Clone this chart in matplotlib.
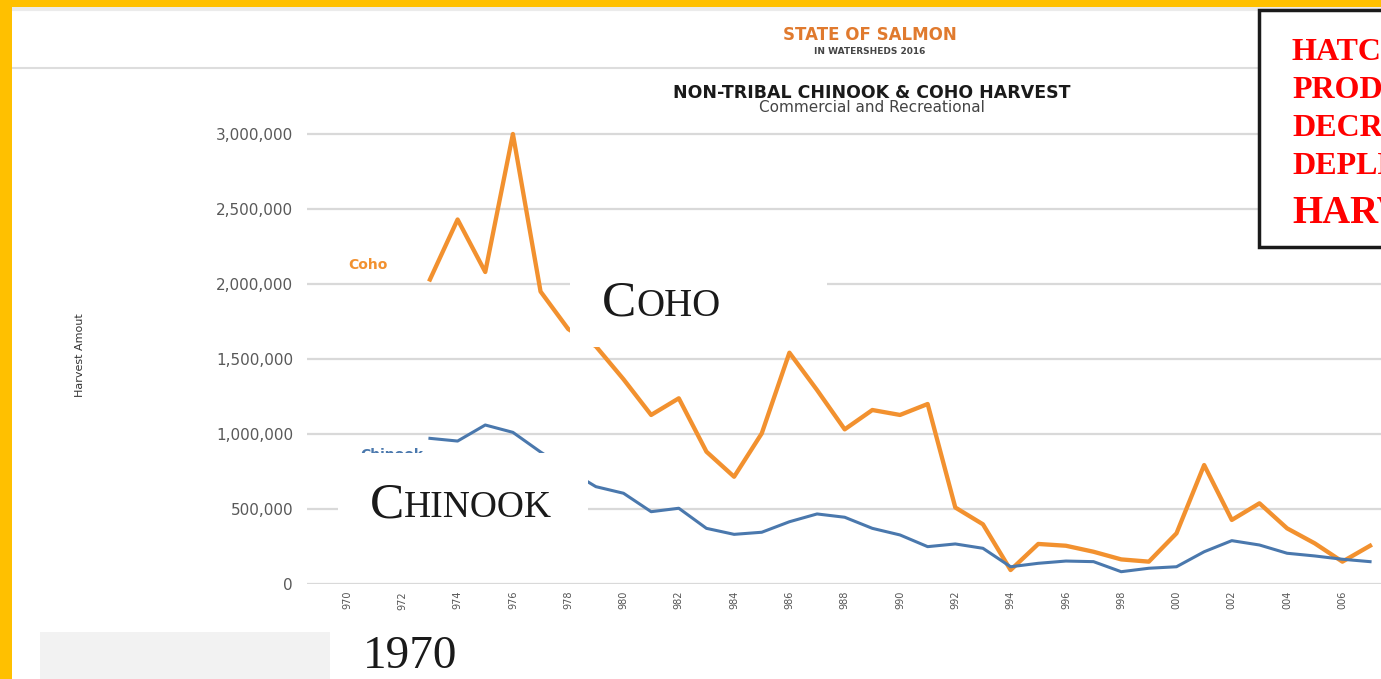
import numpy as np
import matplotlib
matplotlib.use("Agg")
import matplotlib.pyplot as plt
from matplotlib.patches import Rectangle
from matplotlib.lines import Line2D
from matplotlib.ticker import FuncFormatter

# harvest numbers (fish per year)
years = list(range(1973, 2008))
coho = [2030000, 2430000, 2080000, 3000000, 1950000, 1700000, 1585000, 1365000,
        1127000, 1238000, 882000, 715000, 1004000, 1542000, 1293000, 1031000,
        1160000, 1127000, 1200000, 510000, 398000, 93000, 267000, 255000,
        215000, 164000, 149000, 338000, 793000, 427000, 538000, 371000,
        271000, 149000, 255000]
chinook = [971000, 953000, 1060000, 1011000, 880000, 760000, 649000, 605000,
           482000, 505000, 371000, 331000, 345000, 415000, 467000, 445000,
           371000, 327000, 249000, 267000, 238000, 115000, 138000, 153000,
           149000, 82000, 105000, 115000, 215000, 289000, 260000, 205000,
           187000, 165000, 149000]
tick_years = list(range(1970, 2008, 2))
y_ticks = [0, 500000, 1000000, 1500000, 2000000, 2500000, 3000000]
red_lines = ["HATCHERY", "PRODUCTION", "DECREASES", "DEPLETE"]

W, H = 1381, 679
def fx(px):
    return px / W
def fy(py):
    return 1 - py / H

fig = plt.figure(figsize=(W / 100, H / 100), dpi=100)
fig.patch.set_facecolor("white")

# plot area
ax = fig.add_axes([fx(307), fy(584), (W - 307) / W, (584 - 120.5) / H])
ax.patch.set_alpha(0)
ax.plot(years, coho, color="#F2912F", lw=3.1, zorder=3)
ax.plot(years, chinook, color="#4A78AD", lw=2.2, zorder=3)
ax.set_xlim(1970 - 40 / 27.65, 1970 + (W - 347) / 27.65)
ax.set_ylim(0, 3090000)
ax.set_yticks(y_ticks)
ax.yaxis.set_major_formatter(FuncFormatter(lambda v, p: f"{int(v):,}"))
ax.set_xticks(tick_years)
ax.set_xticklabels([str(y)[1:] for y in tick_years])
ax.tick_params(axis="y", length=0, pad=10, labelsize=11, labelcolor="#595959")
ax.tick_params(axis="x", length=0, pad=5, labelsize=7, labelcolor="#555555", labelrotation=90)
ax.yaxis.grid(True, color="#D9D9D9", lw=1.6)
ax.set_axisbelow(True)
for s in ax.spines.values():
    s.set_visible(False)

fig.text(fx(80), fy(355), "Harvest Amout", rotation=90, fontsize=8,
         ha="center", va="center", color="#333333")

# series labels from the original chart
fig.text(fx(348), fy(265), "Coho", fontsize=10, fontweight="bold",
         color="#F2912F", va="center", zorder=2)
fig.text(fx(360), fy(459), "Chinook", fontsize=10, fontweight="bold",
         color="#4A78AD", va="baseline", zorder=2)

# header
fig.text(fx(870), fy(35), "STATE OF SALMON", fontsize=12, fontweight="bold",
         color="#E07A2E", ha="center", va="center")
fig.text(fx(870), fy(52), "IN WATERSHEDS 2016", fontsize=6.5, fontweight="bold",
         color="#444444", ha="center", va="center")
fig.text(fx(872), fy(98), "NON-TRIBAL CHINOOK & COHO HARVEST", fontsize=12.5,
         fontweight="bold", color="#1a1a1a", ha="center", va="baseline")
fig.text(fx(872), fy(100), "Commercial and Recreational", fontsize=11,
         color="#444444", ha="center", va="top")
fig.add_artist(Line2D([fx(12), fx(1258)], [fy(68), fy(68)], color="#DDDDDD", lw=1.5))
fig.add_artist(Line2D([0, 1], [fy(9), fy(9)], color="#EBEBEB", lw=3))

# white cover boxes with slide labels
fig.add_artist(Rectangle((fx(570), fy(347)), (827 - 570) / W, (347 - 268) / H,
                         transform=fig.transFigure, fc="white", ec="none", zorder=5))
fig.add_artist(Rectangle((fx(338), fy(550)), (588 - 338) / W, (550 - 453) / H,
                         transform=fig.transFigure, fc="white", ec="none", zorder=5))
serif = "Liberation Serif"
fig.text(fx(602), fy(316), "C", fontsize=37, family=serif, color="#1a1a1a",
         va="baseline", zorder=6)
fig.text(fx(636), fy(316), "OHO", fontsize=28, family=serif, color="#1a1a1a",
         va="baseline", zorder=6)
fig.text(fx(370), fy(517), "C", fontsize=37, family=serif, color="#1a1a1a",
         va="baseline", zorder=6)
fig.text(fx(404), fy(517), "HINOOK", fontsize=27, family=serif, color="#1a1a1a",
         va="baseline", zorder=6)

# bottom left
fig.add_artist(Rectangle((fx(40), 0), (330 - 40) / W, (H - 632) / H,
                         transform=fig.transFigure, fc="#F2F2F2", ec="none", zorder=5))
fig.text(fx(363), fy(678), "1970", fontsize=34, family=serif, color="#1a1a1a",
         va="bottom", zorder=6)

# red note box
fig.add_artist(Rectangle((fx(1259), fy(247)), (W + 20 - 1259) / W, (247 - 10) / H,
                         transform=fig.transFigure, fc="white", ec="#1a1a1a",
                         lw=2.5, zorder=5))
for i, line in enumerate(red_lines):
    fig.text(fx(1292), fy(60 + 38 * i), line, fontsize=23, family=serif,
             fontweight="bold", color="#FF0000", va="baseline", zorder=6)
fig.text(fx(1292), fy(223), "HARVEST", fontsize=28, family=serif,
         fontweight="bold", color="#FF0000", va="baseline", zorder=6)

# yellow frame
fig.add_artist(Rectangle((0, fy(7)), 1, 7 / H, transform=fig.transFigure,
                         fc="#FFC000", ec="none", zorder=10))
fig.add_artist(Rectangle((0, 0), 12 / W, 1, transform=fig.transFigure,
                         fc="#FFC000", ec="none", zorder=10))

fig.savefig("out.png", dpi=100)
